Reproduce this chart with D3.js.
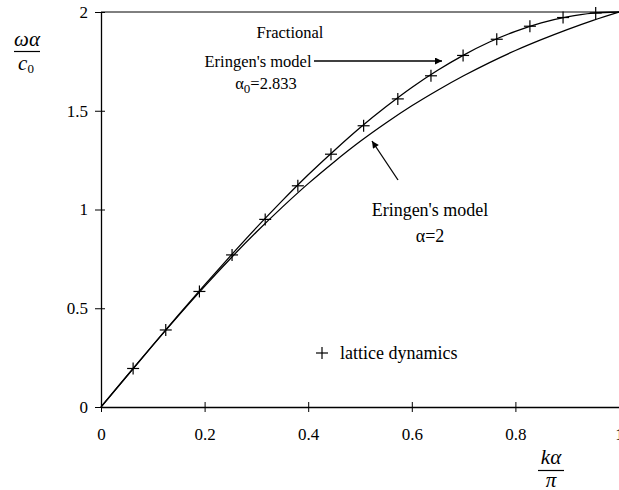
<!DOCTYPE html>
<html>
<head>
<meta charset="utf-8">
<script src="https://cdn.jsdelivr.net/npm/d3@7"></script>
<style>
  html, body { margin: 0; padding: 0; background: #fff; }
  svg text { font-family: "Liberation Serif", "DejaVu Serif", serif; fill: #000; }
</style>
</head>
<body>
<div id="app"></div>
<script>
// values
var xTicks = [0, 0.2, 0.4, 0.6, 0.8, 1];
var yTicks = [0, 0.5, 1, 1.5, 2];

var curveX = [0, 0.05, 0.1, 0.15, 0.2, 0.25, 0.3, 0.35, 0.4, 0.45, 0.5,
              0.55, 0.6, 0.65, 0.7, 0.75, 0.8, 0.85, 0.9, 0.95, 1];
// fractional Eringen's model, alpha0 = 2.833
var fractional = [0, 0.157, 0.313, 0.467, 0.618, 0.765, 0.908, 1.045, 1.176, 1.298, 1.414,
                  1.520, 1.618, 1.705, 1.782, 1.848, 1.902, 1.945, 1.975, 1.994, 2];
// Eringen's model, alpha = 2
var eringen = [0, 0.157, 0.312, 0.464, 0.611, 0.752, 0.886, 1.012, 1.131, 1.241, 1.344,
               1.438, 1.525, 1.604, 1.677, 1.744, 1.805, 1.860, 1.911, 1.958, 2];

// lattice dynamics points
var latticeX = [0.062, 0.125, 0.19, 0.253, 0.317, 0.38, 0.444, 0.507,
                0.573, 0.637, 0.699, 0.764, 0.828, 0.892, 0.955];
var latticeY = [0.195, 0.39, 0.585, 0.77, 0.95, 1.12, 1.28, 1.424,
                1.56, 1.677, 1.78, 1.862, 1.928, 1.972, 1.995];

var width = 619, height = 490;
var mLeft = 101, mRight = 619, mTop = 12, mBottom = 407;

var svg = d3.select('#app').append('svg')
    .attr('width', width)
    .attr('height', height)
    .style('display', 'block');

svg.append('rect').attr('width', width).attr('height', height).attr('fill', '#fff');

var x = d3.scaleLinear().domain([0, 1]).range([mLeft, mRight]);
var y = d3.scaleLinear().domain([0, 2]).range([mBottom, mTop]);

var defs = svg.append('defs');
defs.append('marker')
    .attr('id', 'arrow')
    .attr('viewBox', '0 0 10 10')
    .attr('refX', 10).attr('refY', 5)
    .attr('markerWidth', 10).attr('markerHeight', 7)
    .attr('markerUnits', 'userSpaceOnUse')
    .attr('orient', 'auto')
    .append('path')
    .attr('d', 'M0,0 L10,5 L0,10 Z')
    .attr('fill', '#000');

// top border line
svg.append('line')
    .attr('x1', x(0)).attr('x2', x(1))
    .attr('y1', y(2)).attr('y2', y(2))
    .attr('stroke', '#000').attr('stroke-width', 1);

// axes
var xAxis = svg.append('g')
    .attr('transform', 'translate(0,' + mBottom + ')')
    .call(d3.axisBottom(x).tickValues(xTicks).tickSize(0).tickPadding(21)
        .tickFormat(function (d) { return d === 0 || d === 1 ? d3.format('d')(d) : d3.format('.1f')(d); }));
xAxis.select('.domain').attr('stroke', '#000').attr('stroke-width', 1.3);
xAxis.selectAll('.tick line').attr('y1', -5).attr('y2', 5).attr('stroke', '#000');
xAxis.selectAll('.tick text').style('font-size', '17px')
    .style('font-family', '"Liberation Serif", serif').attr('dy', '0.71em');

var yAxis = svg.append('g')
    .attr('transform', 'translate(' + mLeft + ',0)')
    .call(d3.axisLeft(y).tickValues(yTicks).tickSize(0).tickPadding(13)
        .tickFormat(function (d) { return d % 1 === 0 ? d3.format('d')(d) : d3.format('.1f')(d); }));
yAxis.select('.domain').attr('stroke', '#000').attr('stroke-width', 1.3);
yAxis.selectAll('.tick line').attr('x1', -6).attr('x2', 4).attr('stroke', '#000');
yAxis.selectAll('.tick text').style('font-size', '17px')
    .style('font-family', '"Liberation Serif", serif');

// curves
var line = d3.line()
    .x(function (d) { return x(d[0]); })
    .y(function (d) { return y(d[1]); })
    .curve(d3.curveMonotoneX);

svg.append('path')
    .datum(curveX.map(function (v, i) { return [v, fractional[i]]; }))
    .attr('d', line)
    .attr('fill', 'none').attr('stroke', '#000').attr('stroke-width', 1.3);

svg.append('path')
    .datum(curveX.map(function (v, i) { return [v, eringen[i]]; }))
    .attr('d', line)
    .attr('fill', 'none').attr('stroke', '#000').attr('stroke-width', 1.3);

// lattice dynamics crosses
var cs = 6;
var crosses = svg.append('g').selectAll('g')
    .data(latticeX.map(function (v, i) { return [v, latticeY[i]]; }))
    .enter().append('g')
    .attr('transform', function (d) { return 'translate(' + x(d[0]) + ',' + y(d[1]) + ')'; });
crosses.append('line').attr('x1', -cs).attr('x2', cs).attr('stroke', '#000').attr('stroke-width', 1.2);
crosses.append('line').attr('y1', -cs).attr('y2', cs).attr('stroke', '#000').attr('stroke-width', 1.2);

// annotations
function label(tx, ty, txt, size, anchor) {
    return svg.append('text').attr('x', tx).attr('y', ty)
        .attr('text-anchor', anchor || 'middle')
        .style('font-size', size + 'px').text(txt);
}
label(290, 38, 'Fractional', 16.5);
label(258, 67, "Eringen's model", 16.5);
var a0 = svg.append('text').attr('x', 266).attr('y', 89).attr('text-anchor', 'middle').style('font-size', '16.5px');
a0.append('tspan').text('\u03b1');
a0.append('tspan').attr('dy', 4).style('font-size', '13px').text('0');
a0.append('tspan').attr('dy', -4).text('=2.833');

svg.append('line')
    .attr('x1', 314).attr('y1', 61).attr('x2', 442).attr('y2', 61)
    .attr('stroke', '#000').attr('stroke-width', 1.3)
    .attr('marker-end', 'url(#arrow)');

label(430, 216, "Eringen's model", 18);
label(430, 242, '\u03b1=2', 18);
svg.append('line')
    .attr('x1', 398).attr('y1', 180).attr('x2', 372).attr('y2', 141)
    .attr('stroke', '#000').attr('stroke-width', 1.3)
    .attr('marker-end', 'url(#arrow)');

// legend
var lg = svg.append('g').attr('transform', 'translate(322,353)');
lg.append('line').attr('x1', -cs).attr('x2', cs).attr('stroke', '#000').attr('stroke-width', 1.2);
lg.append('line').attr('y1', -cs).attr('y2', cs).attr('stroke', '#000').attr('stroke-width', 1.2);
label(340, 359, 'lattice dynamics', 18, 'start');

// y axis title
svg.append('text').attr('x', 27).attr('y', 46).attr('text-anchor', 'middle')
    .style('font-size', '21px').style('font-style', 'italic').text('\u03c9\u03b1');
svg.append('line').attr('x1', 14).attr('x2', 40).attr('y1', 51.5).attr('y2', 51.5)
    .attr('stroke', '#000').attr('stroke-width', 1.2);
var c0 = svg.append('text').attr('x', 26).attr('y', 70).attr('text-anchor', 'middle')
    .style('font-size', '21px');
c0.append('tspan').style('font-style', 'italic').text('c');
c0.append('tspan').attr('dy', 3).style('font-size', '13px').text('0');

// x axis title
svg.append('text').attr('x', 551).attr('y', 464).attr('text-anchor', 'middle')
    .style('font-size', '21px').style('font-style', 'italic').text('k\u03b1');
svg.append('line').attr('x1', 538).attr('x2', 564).attr('y1', 470.5).attr('y2', 470.5)
    .attr('stroke', '#000').attr('stroke-width', 1.2);
svg.append('text').attr('x', 551).attr('y', 487).attr('text-anchor', 'middle')
    .style('font-size', '21px').style('font-style', 'italic').text('\u03c0');
</script>
</body>
</html>
